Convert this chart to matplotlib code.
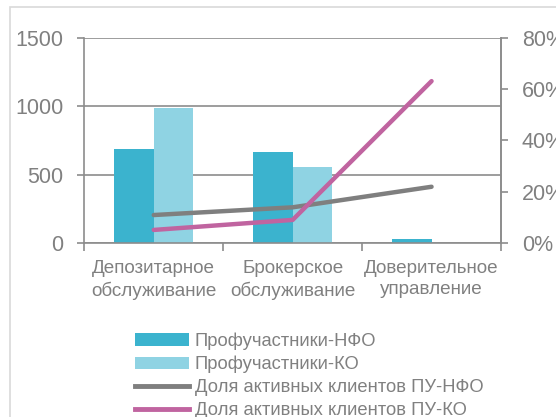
import matplotlib
matplotlib.use("Agg")
import matplotlib.pyplot as plt
from matplotlib.patches import Rectangle, Patch
from matplotlib.lines import Line2D
from matplotlib.ticker import FuncFormatter, FixedLocator
import numpy as np

categories = ["Депозитарное\nобслуживание", "Брокерское\nобслуживание", "Доверительное\nуправление"]
nfo_counts = [688, 664, 32]
ko_counts = [989, 557, 0]
share_nfo = [0.110, 0.140, 0.220]
share_ko = [0.052, 0.091, 0.631]
series_names = ["Профучастники-НФО", "Профучастники-КО",
                "Доля активных клиентов ПУ-НФО", "Доля активных клиентов ПУ-КО"]
left_ticks = [0, 500, 1000, 1500]
right_ticks = [0, 0.2, 0.4, 0.6, 0.8]

c_dark = "#3bb3ce"
c_light = "#8fd3e3"
c_gray = "#7f7f7f"
c_pink = "#c064a0"
txt = "#808080"
axc = "#8c8c8c"

plt.rcParams["font.family"] = ["Liberation Sans", "DejaVu Sans"]

W, H = 556, 417
fig = plt.figure(figsize=(W / 100, H / 100), dpi=100)

# outer chart border (cropped)
fig.patches.append(Rectangle((10 / W, -0.1), 1.2, 1 - 7 / H + 0.1, transform=fig.transFigure,
                             fill=False, edgecolor="#d9d9d9", linewidth=1.2))

ax = fig.add_axes([84.3 / W, 1 - 243.3 / H, (501 - 84.3) / W, (243.3 - 37.7) / H])
x = np.arange(len(categories))
bw = 0.284
ax.bar(x - bw / 2, nfo_counts, bw, color=c_dark, zorder=2)
ax.bar(x + bw / 2, ko_counts, bw, color=c_light, zorder=2)
ax.set_xlim(-0.5, len(categories) - 0.5)
ax.set_ylim(0, 1500)
ax.set_yticks(left_ticks)
ax.yaxis.grid(True, color=axc, linewidth=1.2, zorder=0)
ax.set_axisbelow(True)
ax.spines["top"].set_visible(False)
for s in ["left", "bottom", "right"]:
    ax.spines[s].set_color(axc)
    ax.spines[s].set_linewidth(1.2)
ax.set_xticks(x)
ax.set_xticklabels(categories, linespacing=1.3)
ax.xaxis.set_minor_locator(FixedLocator(np.arange(-0.5, len(categories), 1.0)))
ax.tick_params(axis="x", which="major", length=0, pad=12, labelsize=13.6, labelcolor=txt)
ax.tick_params(axis="x", which="minor", length=6, width=1.2, color=axc, direction="out")
ax.tick_params(axis="y", length=5, width=1.2, color=axc, pad=10, labelsize=15.5, labelcolor=txt)

ax2 = ax.twinx()
ax2.plot(x, share_nfo, color=c_gray, linewidth=3.2, solid_capstyle="round", zorder=3)
ax2.plot(x, share_ko, color=c_pink, linewidth=3.2, solid_capstyle="round", zorder=3)
ax2.set_ylim(0, 0.8)
ax2.set_yticks(right_ticks)
ax2.yaxis.set_major_formatter(FuncFormatter(lambda v, p: f"{v * 100:.0f}%"))
ax2.tick_params(axis="y", length=5, width=1.2, color=axc, pad=10, labelsize=15.5, labelcolor=txt)
for s in ["top", "left", "bottom"]:
    ax2.spines[s].set_visible(False)
ax2.spines["right"].set_color(axc)
ax2.spines["right"].set_linewidth(1.2)

handles = [Patch(facecolor=c_dark, edgecolor="none"),
           Patch(facecolor=c_light, edgecolor="none"),
           Line2D([], [], color=c_gray, linewidth=3.5),
           Line2D([], [], color=c_pink, linewidth=3.5)]
leg = fig.legend(handles, series_names, loc="upper left", bbox_to_anchor=(128 / W, 1 - 325 / H),
                 frameon=False, fontsize=13.2, handlelength=2.9, handleheight=0.7,
                 handletextpad=0.35, labelspacing=0.33, labelcolor=txt, borderaxespad=0)

fig.savefig("out.png", dpi=100)
